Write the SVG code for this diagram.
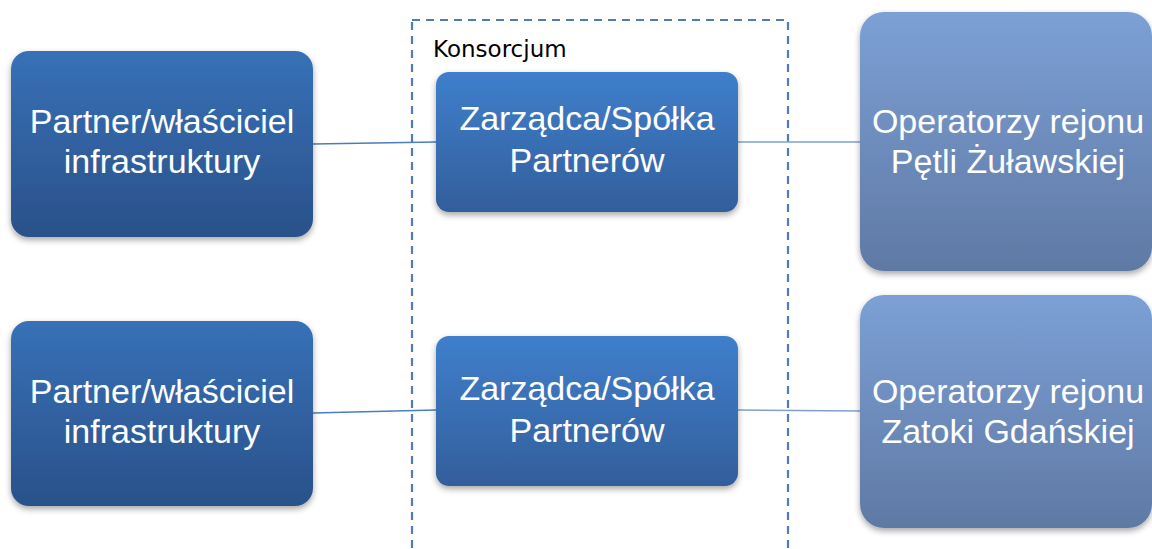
<svg xmlns="http://www.w3.org/2000/svg" width="1152" height="549" viewBox="0 0 1152 549">
<style>
.lbl{font-family:"Liberation Sans","Open Sans",sans-serif;font-size:34px;fill:#ffffff;text-anchor:middle}
.cap{font-family:"DejaVu Sans",Verdana,sans-serif;font-size:23px;fill:#000000}
.conL{stroke:#4a7ebb;stroke-width:1.6;fill:none}
.conR{stroke:#7f9fcf;stroke-width:1.6;fill:none}
</style>
<defs>
<linearGradient id="gL" x1="0" y1="0" x2="0" y2="1"><stop offset="0" stop-color="#3771b7"/><stop offset="1" stop-color="#2a5189"/></linearGradient>
<linearGradient id="gM" x1="0" y1="0" x2="0" y2="1"><stop offset="0" stop-color="#3f7fcc"/><stop offset="1" stop-color="#335e9b"/></linearGradient>
<linearGradient id="gR" x1="0" y1="0" x2="0" y2="1"><stop offset="0" stop-color="#7ca0d5"/><stop offset="1" stop-color="#5f79a4"/></linearGradient>
<filter id="sh" x="-10%" y="-10%" width="120%" height="130%"><feDropShadow dx="0" dy="3" stdDeviation="3" flood-color="#000" flood-opacity="0.35"/></filter>
</defs>
<rect x="0" y="0" width="1152" height="549" fill="#ffffff"/>
<g id="konsorcjum">
<rect x="412" y="20" width="376" height="560" fill="none" stroke="#4a7ebb" stroke-width="2.2" stroke-dasharray="8 6"/>
<text class="cap" x="433" y="57">Konsorcjum</text>
</g>
<g id="connectors">
<line class="conL" x1="313" y1="144" x2="436" y2="142"/>
<line class="conR" x1="738" y1="142" x2="860" y2="142"/>
<line class="conL" x1="313" y1="413" x2="436" y2="410"/>
<line class="conR" x1="738" y1="410" x2="860" y2="411"/>
</g>
<g id="partner1">
<rect x="11" y="51" width="302" height="186" rx="18" fill="url(#gL)" filter="url(#sh)"/>
<text class="lbl" x="162" y="133">Partner/właściciel</text>
<text class="lbl" x="162" y="173">infrastruktury</text>
</g>
<g id="partner2">
<rect x="11" y="321" width="302" height="185" rx="18" fill="url(#gL)" filter="url(#sh)"/>
<text class="lbl" x="162" y="403">Partner/właściciel</text>
<text class="lbl" x="162" y="443">infrastruktury</text>
</g>
<g id="zarzadca1">
<rect x="436" y="72" width="302" height="140" rx="13" fill="url(#gM)" filter="url(#sh)"/>
<text class="lbl" x="587" y="130">Zarządca/Spółka</text>
<text class="lbl" x="587" y="172">Partnerów</text>
</g>
<g id="zarzadca2">
<rect x="436" y="336" width="302" height="150" rx="13" fill="url(#gM)" filter="url(#sh)"/>
<text class="lbl" x="587" y="400">Zarządca/Spółka</text>
<text class="lbl" x="587" y="442">Partnerów</text>
</g>
<g id="operatorzy1">
<rect x="860" y="12" width="292" height="259" rx="24" fill="url(#gR)" filter="url(#sh)"/>
<text class="lbl" x="1008" y="133">Operatorzy rejonu</text>
<text class="lbl" x="1008" y="173">Pętli Żuławskiej</text>
</g>
<g id="operatorzy2">
<rect x="860" y="295" width="292" height="233" rx="24" fill="url(#gR)" filter="url(#sh)"/>
<text class="lbl" x="1008" y="403">Operatorzy rejonu</text>
<text class="lbl" x="1008" y="443">Zatoki Gdańskiej</text>
</g>
</svg>
